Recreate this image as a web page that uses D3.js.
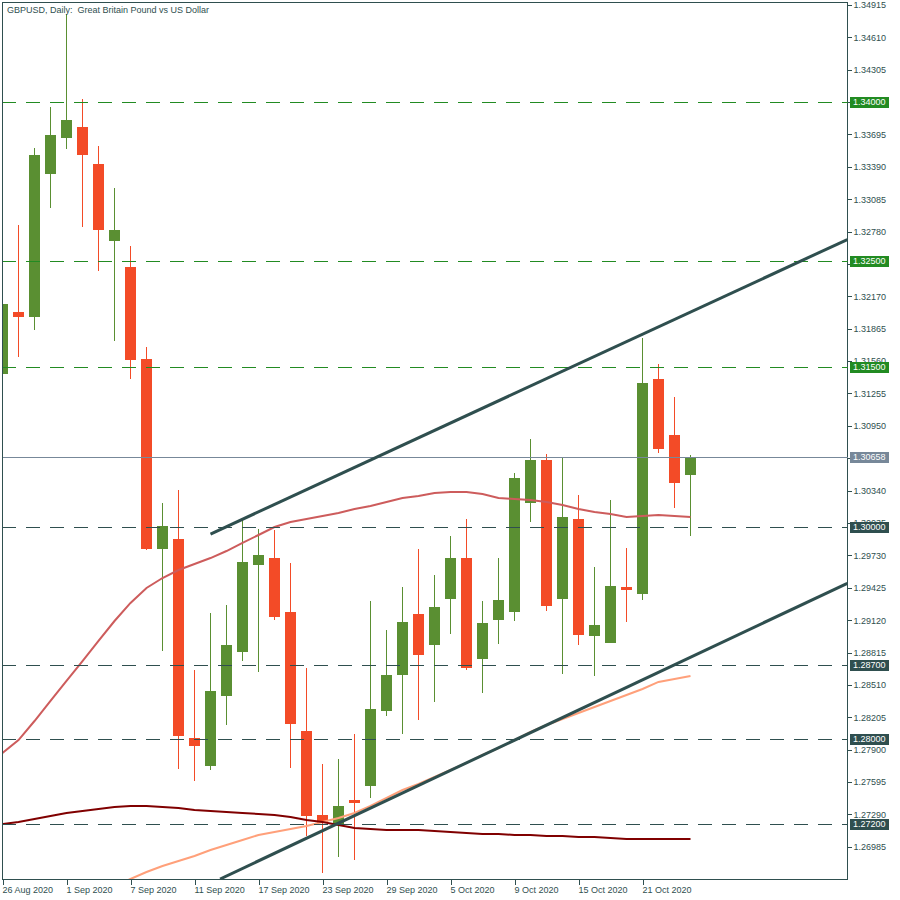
<!DOCTYPE html>
<html><head><meta charset="utf-8">
<script src="https://cdn.jsdelivr.net/npm/d3@7"></script>
<style>
body{margin:0;background:#fff;}
text{font-family:"Liberation Sans",Arial,sans-serif;font-size:9px;}
</style>
</head><body>
<svg id="c" width="900" height="900"></svg>
<script>
const dates = ["2020-08-26","2020-08-27","2020-08-28","2020-08-31","2020-09-01","2020-09-02","2020-09-03","2020-09-04",
"2020-09-07","2020-09-08","2020-09-09","2020-09-10","2020-09-11","2020-09-14","2020-09-15","2020-09-16","2020-09-17",
"2020-09-18","2020-09-21","2020-09-22","2020-09-23","2020-09-24","2020-09-25","2020-09-28","2020-09-29","2020-09-30",
"2020-10-01","2020-10-02","2020-10-05","2020-10-06","2020-10-07","2020-10-08","2020-10-09","2020-10-12","2020-10-13",
"2020-10-14","2020-10-15","2020-10-16","2020-10-19","2020-10-20","2020-10-21","2020-10-22","2020-10-23","2020-10-26"];

const open  = [1.31438,1.32022,1.31975,1.33322,1.33661,1.33765,1.33416,1.32691,1.32446,1.31580,1.29790,1.29884,1.28010,1.27746,1.28406,1.28820,1.29640,1.29705,1.29197,1.28076,1.27285,1.27200,1.27426,1.27558,1.28264,1.28603,1.29178,1.28886,1.29319,1.29705,1.28754,1.29121,1.29197,1.30223,1.30628,1.29319,1.30073,1.28971,1.28905,1.29432,1.29366,1.31391,1.30864,1.30487];
const high  = [1.32154,1.32842,1.33567,1.33953,1.34829,1.34028,1.33586,1.33190,1.32644,1.31693,1.30223,1.30346,1.28651,1.29187,1.29263,1.30063,1.29979,1.29969,1.29658,1.28669,1.27765,1.27812,1.28048,1.29300,1.29027,1.29432,1.29790,1.29545,1.29913,1.30073,1.29300,1.29705,1.30506,1.30826,1.30685,1.30647,1.30299,1.29621,1.30252,1.29800,1.31777,1.31533,1.31222,1.30675];
const low   = [1.31401,1.31598,1.31853,1.33002,1.33557,1.32823,1.32408,1.31749,1.31391,1.29781,1.28830,1.27718,1.27605,1.27709,1.28133,1.28735,1.28632,1.29121,1.27728,1.27087,1.26739,1.26889,1.26861,1.27445,1.28217,1.28048,1.28180,1.28349,1.28990,1.28651,1.28434,1.28895,1.29112,1.30044,1.29206,1.28613,1.28886,1.28594,1.28905,1.29103,1.29310,1.30694,1.30176,1.29913];
const close = [1.32098,1.31975,1.33501,1.33689,1.33830,1.33501,1.32795,1.32795,1.31570,1.29790,1.30007,1.28029,1.27935,1.28453,1.28886,1.29668,1.29734,1.29150,1.28142,1.27276,1.27210,1.27370,1.27398,1.28283,1.28603,1.29103,1.28792,1.29244,1.29705,1.28669,1.29093,1.29310,1.30459,1.30628,1.29253,1.30092,1.28980,1.29074,1.29442,1.29404,1.31354,1.30732,1.30412,1.30658];

const maRed = [1.27869,1.27991,1.28170,1.28359,1.28547,1.28735,1.28924,1.29112,1.29282,1.29423,1.29517,1.29592,1.29649,1.29705,1.29771,1.29847,1.29922,1.29997,1.30044,1.30073,1.30101,1.30129,1.30167,1.30195,1.30233,1.30270,1.30289,1.30318,1.30327,1.30327,1.30308,1.30270,1.30261,1.30252,1.30233,1.30205,1.30167,1.30139,1.30120,1.30092,1.30101,1.30110,1.30101,1.30092];
const maSalmon = [null,null,null,null,null,null,null,1.26616,1.26682,1.26748,1.26805,1.26852,1.26899,1.26955,1.27002,1.27050,1.27097,1.27125,1.27153,1.27181,1.27219,1.27257,1.27304,1.27370,1.27445,1.27520,1.27577,1.27643,1.27709,1.27775,1.27850,1.27916,1.27991,1.28067,1.28133,1.28189,1.28246,1.28302,1.28359,1.28415,1.28472,1.28538,1.28566,1.28594];
const maMaroon = [1.27200,1.27219,1.27247,1.27276,1.27304,1.27323,1.27341,1.27360,1.27370,1.27370,1.27360,1.27351,1.27332,1.27323,1.27313,1.27304,1.27294,1.27285,1.27266,1.27238,1.27219,1.27191,1.27163,1.27153,1.27144,1.27144,1.27144,1.27134,1.27125,1.27115,1.27106,1.27106,1.27097,1.27097,1.27087,1.27087,1.27078,1.27078,1.27068,1.27059,1.27059,1.27059,1.27059,1.27059];

const yTicks = [1.34915,1.34610,1.34305,1.34000,1.33695,1.33390,1.33085,1.32780,1.32475,1.32170,1.31865,1.31560,1.31255,1.30950,1.30645,1.30340,1.30035,1.29730,1.29425,1.29120,1.28815,1.28510,1.28205,1.27900,1.27595,1.27290,1.26985];
const xTickIdx = [0,4,8,12,16,20,24,28,32,36,40];
const levelsGreen = [1.34000,1.32500,1.31500];
const levelsDark = [1.30000,1.28700,1.28000,1.27200];
const lastPrice = 1.30658;
const channelUpper = [[13.0,1.29931],[52.8,1.32705]];
const channelLower = [[13.6,1.26682],[52.8,1.29467]];
const title = "GBPUSD, Daily:  Great Britain Pound vs US Dollar";

const C = {bull:"#5a8f32", bear:"#f34b27", frame:"#2f4f4f", green:"#228b22", dark:"#2f4f4f", price:"#778899",
  ma1:"#cd5c5c", ma2:"#ffa07a", ma3:"#800000", chan:"#2f4f4f"};

const svg = d3.select("#c");
const L=2.5, T=2.5, R=847.5, B=879.5;
const parse = d3.timeParse("%Y-%m-%d"), fmt = d3.timeFormat("%-d %b %Y");
const x = d3.scaleLinear().domain([0, dates.length-1]).range([2.5, 2.5+16*(dates.length-1)]);
const y = d3.scaleLinear().domain([1.26682, 1.34961]).range([879, 0]);

svg.append("defs").append("clipPath").attr("id","clip").append("rect")
  .attr("x",3).attr("y",3).attr("width",R-3).attr("height",B-3.5);
const plot = svg.append("g").attr("clip-path","url(#clip)");

// candles
const cg = plot.append("g").attr("shape-rendering","crispEdges");
dates.forEach((d,i)=>{
  const up = close[i] >= open[i];
  const col = up ? C.bull : C.bear;
  const cx = x(i);
  cg.append("line").attr("x1",cx).attr("x2",cx)
    .attr("y1",Math.round(y(high[i]))).attr("y2",Math.round(y(low[i])))
    .attr("stroke",col).attr("stroke-width",1);
  const yt = Math.round(y(Math.max(open[i],close[i]))), yb = Math.round(y(Math.min(open[i],close[i])));
  cg.append("rect").attr("x",cx-5.5).attr("y",yt).attr("width",11).attr("height",Math.max(2,yb-yt))
    .attr("fill",col);
});

// moving averages
const lineGen = d3.line().defined(v=>v!=null).x((v,i)=>x(i)).y(v=>y(v));
[[maRed,C.ma1],[maSalmon,C.ma2],[maMaroon,C.ma3]].forEach(([arr,col])=>{
  plot.append("path").attr("d",lineGen(arr)).attr("fill","none").attr("stroke",col).attr("stroke-width",2);
});

// level lines
const lg = plot.append("g").attr("shape-rendering","crispEdges");
levelsGreen.forEach(v=>{
  lg.append("line").attr("x1",2).attr("x2",R).attr("y1",Math.round(y(v))+0.5).attr("y2",Math.round(y(v))+0.5)
    .attr("stroke",C.green).attr("stroke-dasharray","14,10");
});
levelsDark.forEach(v=>{
  lg.append("line").attr("x1",2).attr("x2",R).attr("y1",Math.round(y(v))+0.5).attr("y2",Math.round(y(v))+0.5)
    .attr("stroke",C.dark).attr("stroke-dasharray","14,10");
});
lg.append("line").attr("x1",2).attr("x2",R).attr("y1",Math.round(y(lastPrice))+0.5).attr("y2",Math.round(y(lastPrice))+0.5)
  .attr("stroke",C.price);

// channel lines
[channelUpper, channelLower].forEach(pts=>{
  plot.append("line").attr("x1",x(pts[0][0])).attr("y1",y(pts[0][1]))
    .attr("x2",x(pts[1][0])).attr("y2",y(pts[1][1]))
    .attr("stroke",C.chan).attr("stroke-width",3);
});

// frame
const fg = svg.append("g").attr("shape-rendering","crispEdges");
fg.append("rect").attr("x",L).attr("y",T).attr("width",R-L).attr("height",B-T)
  .attr("fill","none").attr("stroke",C.frame);

// y axis (right)
const yAxis = d3.axisRight(y).tickValues(yTicks).tickSize(4).tickPadding(2).tickFormat(d3.format(".5f"));
const ya = svg.append("g").attr("transform",`translate(${R},0)`).call(yAxis);
ya.select(".domain").remove();
ya.selectAll("line").attr("stroke",C.frame).attr("shape-rendering","crispEdges");
ya.selectAll("text").attr("fill",C.frame).attr("font-size",9.3).attr("font-family","Liberation Sans, Arial, sans-serif");

// highlighted labels
function tag(v, col){
  const yy = Math.round(y(v));
  svg.append("line").attr("x1",842).attr("x2",R).attr("y1",yy+0.5).attr("y2",yy+0.5).attr("stroke",col).attr("shape-rendering","crispEdges");
  svg.append("rect").attr("x",850).attr("y",yy-5).attr("width",39).attr("height",11).attr("fill",col);
  svg.append("text").attr("x",853).attr("y",yy).attr("dy","0.35em").attr("fill","#fff").attr("font-size",9.3).text(d3.format(".5f")(v));
}
levelsGreen.forEach(v=>tag(v,C.green));
levelsDark.forEach(v=>tag(v,C.dark));
tag(lastPrice, C.price);

// x axis (bottom)
const xAxis = d3.axisBottom(x).tickValues(xTickIdx).tickSize(5).tickFormat(i=>fmt(parse(dates[i])));
const xa = svg.append("g").attr("transform",`translate(0,${B})`).call(xAxis);
xa.select(".domain").remove();
xa.selectAll("line").attr("stroke",C.frame).attr("shape-rendering","crispEdges");
xa.selectAll("text").attr("fill",C.frame).attr("text-anchor","start").attr("x",-0.5).attr("y",7).attr("dy","0.71em")
  .attr("font-size",9.3).attr("font-family","Liberation Sans, Arial, sans-serif");

// title
svg.append("text").attr("x",7).attr("y",13).attr("fill",C.frame).attr("font-size",9.6).style("white-space","pre").text(title);
</script>
</body></html>
